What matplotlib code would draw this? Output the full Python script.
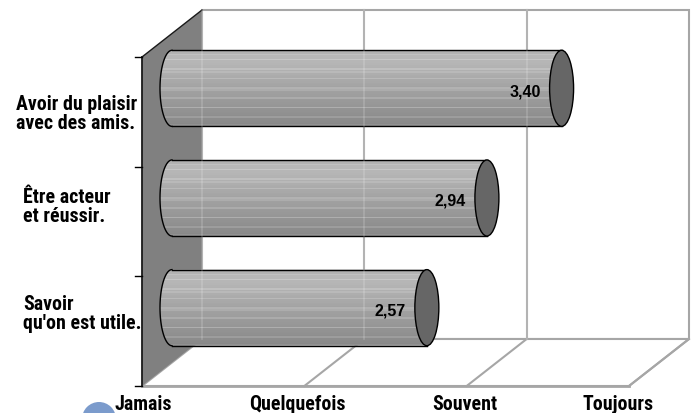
import numpy as np
import matplotlib
matplotlib.use("Agg")
import matplotlib.pyplot as plt
from matplotlib.patches import Polygon, Ellipse, PathPatch
from matplotlib.path import Path
from matplotlib.transforms import blended_transform_factory

# ---- data -------------------------------------------------------------
categories = ["Savoir\nqu'on est utile.",
              "Être acteur\net réussir.",
              "Avoir du plaisir\navec des amis."]
values = [2.57, 2.94, 3.40]
value_labels = ["2,57", "2,94", "3,40"]
scale_ticks = [1, 2, 3, 4]
scale_labels = ["Jamais", "Quelquefois", "Souvent", "Toujours"]

# ---- layout -----------------------------------------------------------
PX_X = 162.33          # pixels per scale unit
PX_Y = 109.67          # pixels per category band
DX, DY = 60 / PX_X, 47 / PX_Y   # oblique depth of the box
X0, X1 = scale_ticks[0], scale_ticks[-1]
NCAT = len(categories)
BAR_HALF = 0.347       # cylinder radius (category units)
CAP_HALF = 12 / PX_X   # half-width of the elliptical caps

GRID = "#a6a6a6"
WALL = "#808080"
NARROW = dict(family=["Liberation Sans Narrow", "Roboto Condensed", "DejaVu Sans"],
              fontstretch="condensed", fontweight="bold")
SANS = ["Liberation Sans", "DejaVu Sans"]

fig = plt.figure(figsize=(6.93, 4.13), dpi=100)
ax = fig.add_axes([0, 0, 1, 1])
ax.set_axis_off()

# back wall
ax.add_patch(Polygon([(X0 + DX, DY), (X1 + DX, DY), (X1 + DX, NCAT + DY), (X0 + DX, NCAT + DY)],
                     closed=True, facecolor="white", edgecolor=GRID, lw=1.5, zorder=1))
for v in scale_ticks[1:-1]:
    ax.plot([v + DX, v + DX], [DY, NCAT + DY], color=GRID, lw=1.5, zorder=1.1)

# floor
ax.add_patch(Polygon([(X0, 0), (X1, 0), (X1 + DX, DY), (X0 + DX, DY)],
                     closed=True, facecolor="white", edgecolor=GRID, lw=1.5, zorder=1))
for v in scale_ticks[1:]:
    ax.plot([v, v + DX], [0, DY], color=GRID, lw=1.5, zorder=1.1)
ax.plot([X0, X1], [0, 0], color=GRID, lw=2, zorder=1.2)

# left wall
ax.add_patch(Polygon([(X0, 0), (X0, NCAT), (X0 + DX, NCAT + DY), (X0 + DX, DY)],
                     closed=True, facecolor=WALL, edgecolor="none", zorder=1.5))
ax.plot([X0, X0], [0, NCAT], color="#1a1a1a", lw=1.3, zorder=1.6)
ax.plot([X0, X0 + DX], [NCAT, NCAT + DY], color="#1a1a1a", lw=1.0, zorder=1.6)
for k in range(NCAT + 1):
    ax.plot([X0 - 7 / PX_X, X0], [k, k], color="black", lw=1.0, zorder=1.6)

# cylinder shading: darker towards the bottom with thin light streaks
nrow = 48
t = np.linspace(0, 1, nrow)
shade = 0.75 - 0.22 * t - 0.10 * np.exp(-t / 0.04)
shade[::6] += 0.06
shade[3::11] += 0.04
shade = np.clip(shade, 0, 1)[:, None]

for i, (v, lab) in enumerate(zip(values, value_labels)):
    yc = i + 0.5 + DY / 2
    xs = X0 + DX / 2
    xe = v + DX / 2
    yt, yb = yc + BAR_HALF, yc - BAR_HALF
    th = np.linspace(1.5 * np.pi, 0.5 * np.pi, 80)
    arc = np.column_stack([xs + CAP_HALF * np.cos(th), yc + BAR_HALF * np.sin(th)])
    verts = np.vstack([[(xs, yt), (xe, yt), (xe, yb), (xs, yb)], arc, [(xs, yt)]])
    clip = PathPatch(Path(verts, closed=True), transform=ax.transData,
                     facecolor="none", edgecolor="none")
    im = ax.imshow(shade, cmap="gray", vmin=0, vmax=1, aspect="auto",
                   interpolation="nearest", extent=(xs - CAP_HALF, xe, yb, yt), zorder=3)
    im.set_clip_path(clip)
    ax.plot([xs, xe], [yt, yt], color="black", lw=1.0, zorder=4)
    ax.plot([xs, xe], [yb, yb], color="black", lw=1.0, zorder=4)
    ax.plot(arc[:, 0], arc[:, 1], color="black", lw=1.0, zorder=4)
    ax.add_patch(Ellipse((xe, yc), 2 * CAP_HALF, 2 * BAR_HALF, facecolor="#666666",
                         edgecolor="black", lw=1.0, zorder=5))
    ax.text(xe - CAP_HALF - 9 / PX_X, yc - 0.03, lab, ha="right", va="center",
            fontsize=11.5, fontweight="bold", family=SANS, color="black", zorder=6)

# gridlines faintly visible through the cylinders
for v in scale_ticks[:-1]:
    ax.plot([v + DX, v + DX], [DY, NCAT + DY], color="white", lw=1.2, alpha=0.18, zorder=4.5)

# category labels
blend = blended_transform_factory(ax.transAxes, ax.transData)
cat_x = [0.0332, 0.0332, 0.0231]
cat_nudge = [0.152, 0.128, -0.02]
for i, name in enumerate(categories):
    ax.text(cat_x[i], i + 0.5 + cat_nudge[i], name, transform=blend, ha="left", va="center",
            fontsize=14.3, linespacing=1.0, zorder=6, **NARROW)

# scale labels
tick_nudge = [1, -7, -2, -11]
for v, name, nd in zip(scale_ticks, scale_labels, tick_nudge):
    ax.text(v + nd / PX_X, -18 / PX_Y, name, ha="center", va="center",
            fontsize=14.3, zorder=6, **NARROW)

# decorative bullet at the bottom left
ax.add_patch(Ellipse((X0 - 43 / PX_X, -33 / PX_Y), 34 / PX_X, 34 / PX_Y,
                     facecolor="#7b9bcc", edgecolor="none", zorder=0.5))

ax.set_xlim(X0 - 142 / PX_X, X0 + 551 / PX_X)
ax.set_ylim(-27 / PX_Y, 386 / PX_Y)

fig.savefig("out.png", dpi=100)
